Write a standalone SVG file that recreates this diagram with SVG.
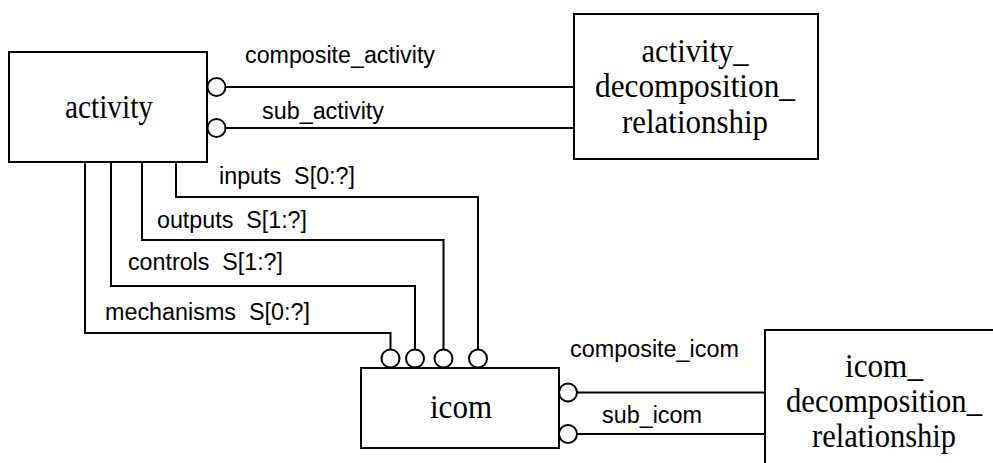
<svg xmlns="http://www.w3.org/2000/svg" width="993" height="463" viewBox="0 0 993 463">
  <style>
    .box { fill: #ffffff; stroke: #000000; stroke-width: 2; }
    .wire { fill: none; stroke: #000000; stroke-width: 2; }
    .ring { fill: #ffffff; stroke: #000000; stroke-width: 2; }
    .name { font-family: "Liberation Serif", "Times New Roman", serif; font-size: 34px; fill: #000000; }
    .role { font-family: "Liberation Sans", Arial, sans-serif; font-size: 23px; fill: #000000; }
  </style>
  <rect x="0" y="0" width="993" height="463" fill="#ffffff"/>

  <!-- relationships between entities -->
  <g id="connectors">
    <g id="composite_activity">
      <line class="wire" x1="225" y1="87" x2="574" y2="87"/>
      <circle class="ring" cx="216.5" cy="87" r="9"/>
      <text class="role" x="245" y="63" textLength="190" lengthAdjust="spacingAndGlyphs">composite_activity</text>
    </g>
    <g id="sub_activity">
      <line class="wire" x1="225" y1="128" x2="574" y2="128"/>
      <circle class="ring" cx="216.5" cy="128" r="9"/>
      <text class="role" x="262" y="119" textLength="122" lengthAdjust="spacingAndGlyphs">sub_activity</text>
    </g>
    <g id="inputs">
      <path class="wire" d="M176,162 V197 H478 V350"/>
      <circle class="ring" cx="478" cy="358.5" r="9"/>
      <text class="role" x="219" y="184" xml:space="preserve" textLength="136" lengthAdjust="spacingAndGlyphs">inputs  S[0:?]</text>
    </g>
    <g id="outputs">
      <path class="wire" d="M142,162 V240 H443.5 V350"/>
      <circle class="ring" cx="443.5" cy="358.5" r="9"/>
      <text class="role" x="157" y="228" xml:space="preserve" textLength="150" lengthAdjust="spacingAndGlyphs">outputs  S[1:?]</text>
    </g>
    <g id="controls">
      <path class="wire" d="M111,162 V286 H415 V350"/>
      <circle class="ring" cx="415" cy="358.5" r="9"/>
      <text class="role" x="128" y="270" xml:space="preserve" textLength="155" lengthAdjust="spacingAndGlyphs">controls  S[1:?]</text>
    </g>
    <g id="mechanisms">
      <path class="wire" d="M85,162 V333 H390.5 V350"/>
      <circle class="ring" cx="390.5" cy="358.5" r="9"/>
      <text class="role" x="105" y="320" xml:space="preserve" textLength="205" lengthAdjust="spacingAndGlyphs">mechanisms  S[0:?]</text>
    </g>
    <g id="composite_icom">
      <line class="wire" x1="577" y1="392.5" x2="765" y2="392.5"/>
      <circle class="ring" cx="568" cy="392.5" r="9"/>
      <text class="role" x="570" y="357" textLength="169" lengthAdjust="spacingAndGlyphs">composite_icom</text>
    </g>
    <g id="sub_icom">
      <line class="wire" x1="577" y1="434" x2="765" y2="434"/>
      <circle class="ring" cx="568" cy="434" r="9"/>
      <text class="role" x="602" y="423" textLength="100" lengthAdjust="spacingAndGlyphs">sub_icom</text>
    </g>
  </g>

  <!-- entities -->
  <g id="activity">
    <rect class="box" x="9" y="52" width="198" height="110"/>
    <text class="name" x="65" y="118" textLength="88" lengthAdjust="spacingAndGlyphs">activity</text>
  </g>

  <g id="activity_decomposition_relationship">
    <rect class="box" x="574" y="14" width="244" height="145"/>
    <text class="name" text-anchor="middle" x="695" y="62" textLength="107" lengthAdjust="spacingAndGlyphs">activity_</text>
    <text class="name" text-anchor="middle" x="695" y="97" textLength="200" lengthAdjust="spacingAndGlyphs">decomposition_</text>
    <text class="name" text-anchor="middle" x="695" y="133" textLength="146" lengthAdjust="spacingAndGlyphs">relationship</text>
  </g>

  <g id="icom">
    <rect class="box" x="361" y="368" width="198" height="80"/>
    <text class="name" x="430" y="418" textLength="62" lengthAdjust="spacingAndGlyphs">icom</text>
  </g>

  <!-- this box runs past the right and bottom edges of the sheet -->
  <g id="icom_decomposition_relationship">
    <rect class="box" x="765" y="330" width="242" height="150"/>
    <text class="name" text-anchor="middle" x="884" y="377" textLength="78" lengthAdjust="spacingAndGlyphs">icom_</text>
    <text class="name" text-anchor="middle" x="884" y="412" textLength="196" lengthAdjust="spacingAndGlyphs">decomposition_</text>
    <text class="name" text-anchor="middle" x="884" y="447" textLength="144" lengthAdjust="spacingAndGlyphs">relationship</text>
  </g>
</svg>
